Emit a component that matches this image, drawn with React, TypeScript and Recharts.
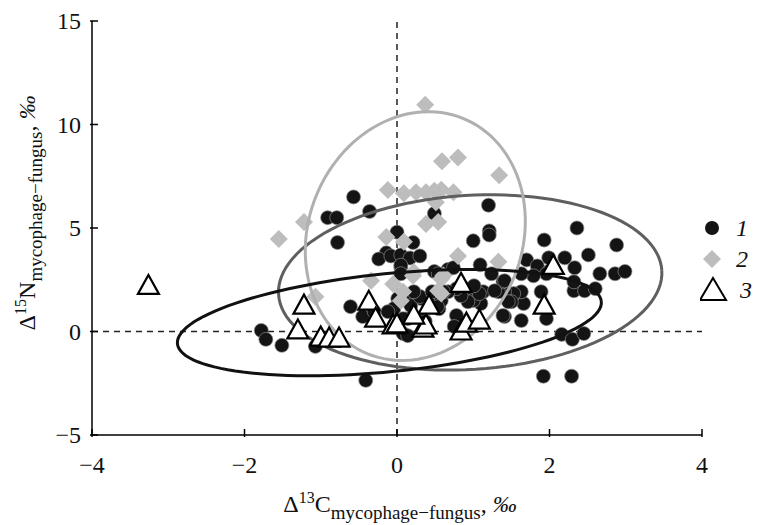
import React from "react";
import {
  ScatterChart, Scatter, XAxis, YAxis, ReferenceLine, Label,
} from "recharts";

// group 1 – black dots
const dotsX = [
  -1.78, -1.72, -1.51, -1.07, -0.61, -0.45, -0.3, -0.41, 0.08, 0.05,
  -0.57, -0.91, -0.79, -0.36, -0.78, 0.0, -0.14, -0.24, -0.08, 0.05, 0.17, 0.3, 0.21, 0.49, 0.05, 0.49, 0.67, 0.05,
  1.2, 1.21, 1.21, 1.0, 1.93, 2.36, 2.51, 2.2, 1.99, 1.7, 1.84, 0.74, 1.09, 2.33, 1.99,
  2.88, 2.66, 2.86, 2.99,
  2.32, 2.46, 2.6, 1.89, 1.96, 2.16, 2.3, 2.45, 1.92, 2.29, 1.63, 1.41, 1.66, 1.63, 1.53, 1.41, 1.33, 1.5, 1.13, 1.1,
  0.95, 1.0, 0.78, 0.75, 0.55, 0.49, 0.36, 0.14, 0.12, 0.32, 0.54, 1.24, 1.39, 1.96, 2.32, 1.79, 1.63, 1.41, 1.28,
  1.46, 1.08, 0.93, 0.84, 1.01, 0.78, 0.67, 0.58, 1.39,
  0.01, 0.18, 0.08, 0.14, 0.37, 0.3, 0.53, 0.46, 0.61, 0.22, -0.04, -0.04, -0.12,
];
const dotsY = [
  0.05, -0.38, -0.67, -0.72, 1.2, 0.72, 0.96, -2.36, -0.1, 3.1,
  6.5, 5.5, 5.5, 5.8, 4.3, 4.8, 3.8, 3.5, 3.65, 3.7, 3.55, 3.65, 4.3, 5.7, 3.2, 2.9, 3.0, 2.79,
  6.1, 4.86, 4.66, 4.38, 4.42, 5.0, 3.7, 3.56, 3.56, 3.46, 3.17, 3.08, 3.22, 3.08, 2.9,
  4.18, 2.79, 2.79, 2.9,
  1.97, 1.97, 2.07, 1.92, 0.62, -0.14, -0.38, -0.1, -2.16, -2.16, 0.53, 0.72, 1.35, 1.92, 1.83, 1.92, 1.92, 1.44, 1.92, 1.35,
  2.07, 1.5, 0.77, 0.24, 1.1, 1.44, 0.53, 0.62, 1.59, 1.59, 2.79, 2.79, 2.4, 2.79, 2.4, 2.69, 2.79, 2.45, 1.97,
  1.44, 1.83, 1.44, 1.73, 2.21, 2.07, 1.92, 1.49, 0.77,
  1.59, 1.25, 0.62, -0.2, 0.48, 1.69, 1.2, 1.92, 1.92, 1.92, 1.11, 0.29, 0.96,
];

// group 2 – grey diamonds
const diamondsX = [
  -1.55, -1.22, -0.12, 0.09, -0.14, 0.09, -1.07, -0.34, -0.05, 0.08, 0.37, 0.59, 0.8, 1.34,
  0.25, 0.38, 0.49, 0.58, 0.74, 0.51, 0.38, 0.54, 0.8, 1.33, 0.05, 0.54, 0.58, 0.21, 0.58, 0.61, 0.22,
];
const diamondsY = [
  4.47, 5.29, 6.83, 6.68, 4.57, 4.33, 1.68, 2.45, 2.3, 1.92, 10.96, 8.22, 8.41, 7.55,
  6.73, 6.73, 6.8, 6.85, 6.73, 6.25, 5.19, 5.29, 3.65, 3.37, 1.49, 1.97, 2.55, 2.69, 1.83, 2.7, 2.88,
];

// group 3 – open triangles
const trianglesX = [
  -3.26, -1.22, -1.3, -1.0, -0.89, -0.76, -0.37, -0.28, -0.05, 0.0, 0.34, 0.42, 0.38, 0.84, 0.91, 1.08, 1.93, 0.84, 0.22, 2.05,
];
const trianglesY = [
  2.2, 1.25, 0.05, -0.29, -0.34, -0.34, 1.44, 0.62, 0.29, 0.34, 0.14, 1.25, 0.29, 0.0, 0.38, 0.53, 1.25, 2.3, 0.77, 3.17,
];

// ellipses: centre x, centre y, semi-axes (px), rotation (deg)
const ellipseNames = ["1", "2", "3"];
const ellipseCx = [0.96, 0.24, -0.1];
const ellipseCy = [2.37, 4.61, 0.43];
const ellipseA = [192, 107, 213];
const ellipseB = [87, 127, 49];
const ellipseDeg = [3.6, -22, 5.7];
const ellipseColors = ["#5f5f5f", "#b0b0b0", "#111111"];

const xTicks = [-4, -2, 0, 2, 4];
const yTicks = [-5, 0, 5, 10, 15];

const W = 772;
const H = 525;
const M = { top: 21, right: 70, left: 2, bottom: 0 };
const Y_W = 90;
const X_H = 90;
const PX_X = (W - M.left - M.right - Y_W) / 8;
const PX_Y = (H - M.top - X_H) / 20;

const FONT = "'Liberation Serif', 'Times New Roman', serif";

const zip = (xs: number[], ys: number[]) => xs.map((x, i) => ({ x, y: ys[i] }));

function ellipsePoints(i: number) {
  const th = (ellipseDeg[i] * Math.PI) / 180;
  const pts = [];
  for (let k = 0; k <= 120; k++) {
    const t = (k / 120) * 2 * Math.PI;
    const px = ellipseA[i] * Math.cos(t);
    const py = ellipseB[i] * Math.sin(t);
    const rx = px * Math.cos(th) - py * Math.sin(th);
    const ry = px * Math.sin(th) + py * Math.cos(th);
    pts.push({ x: ellipseCx[i] + rx / PX_X, y: ellipseCy[i] + ry / PX_Y });
  }
  return pts;
}

const minus = (v: number) => String(v).replace("-", "\u2212");

const Dot = ({ cx, cy }: any) => (
  <circle cx={cx} cy={cy} r={7} fill="#141414" stroke="#8a8a8a" strokeWidth={0.7} />
);
const Diamond = ({ cx, cy }: any) => (
  <polygon
    points={`${cx},${cy - 9} ${cx + 9},${cy} ${cx},${cy + 9} ${cx - 9},${cy}`}
    fill="#bdbdbd"
  />
);
const Tri = ({ cx, cy }: any) => (
  <polygon
    points={`${cx},${cy - 11} ${cx + 10.5},${cy + 8} ${cx - 10.5},${cy + 8}`}
    fill="#fff"
    stroke="#000"
    strokeWidth={2.2}
    strokeLinejoin="miter"
  />
);
const Empty = () => <g />;

function YTick({ x, y, payload }: any) {
  return (
    <g>
      <line x1={x} x2={x + 8} y1={y} y2={y} stroke="#000" strokeWidth={1.5} />
      <text x={x - 9} y={y + 8} textAnchor="end" fontFamily={FONT} fontSize={24} fill="#111">
        {minus(payload.value)}
      </text>
    </g>
  );
}

function XTick({ x, y, payload }: any) {
  return (
    <g>
      <line x1={x} x2={x} y1={y} y2={y - 8} stroke="#000" strokeWidth={1.5} />
      <text x={x} y={y + 36} textAnchor="middle" fontFamily={FONT} fontSize={24} fill="#111">
        {minus(payload.value)}
      </text>
    </g>
  );
}

const XTitle = () => (
  <text x={400} y={512} textAnchor="middle" fontFamily={FONT} fontSize={24} fill="#111">
    Δ<tspan dy={-9} fontSize={16}>13</tspan>
    <tspan dy={9}>C</tspan>
    <tspan dy={7} fontSize={19}>mycophage−fungus</tspan>
    <tspan dy={-7}>, </tspan>
    <tspan fontStyle="italic">‰</tspan>
  </text>
);

const YTitle = () => (
  <text
    transform="translate(35,213) rotate(-90)"
    textAnchor="middle"
    fontFamily={FONT}
    fontSize={24}
    fill="#111"
  >
    Δ<tspan dy={-9} fontSize={16}>15</tspan>
    <tspan dy={9}>N</tspan>
    <tspan dy={7} fontSize={19}>mycophage−fungus</tspan>
    <tspan dy={-7}>, </tspan>
    <tspan fontStyle="italic">‰</tspan>
  </text>
);

const legendItems = [
  { label: "1", y: 228 },
  { label: "2", y: 259 },
  { label: "3", y: 290 },
];

export default function App() {
  return (
    <div style={{ position: "absolute", left: 0, top: 0, width: W, height: H, background: "#fff" }}>
      <ScatterChart width={W} height={H} margin={M}>
        <XAxis
          type="number"
          dataKey="x"
          domain={[-4, 4]}
          ticks={xTicks}
          height={X_H}
          allowDataOverflow
          tickLine={false}
          tickSize={0}
          axisLine={{ stroke: "#000", strokeWidth: 1.5 }}
          tick={<XTick />}
        >
          <Label content={<XTitle />} />
        </XAxis>
        <YAxis
          type="number"
          dataKey="y"
          domain={[-5, 15]}
          ticks={yTicks}
          width={Y_W}
          allowDataOverflow
          tickLine={false}
          tickSize={0}
          axisLine={{ stroke: "#000", strokeWidth: 1.5 }}
          tick={<YTick />}
        >
          <Label content={<YTitle />} />
        </YAxis>
        <ReferenceLine x={0} stroke="#222" strokeWidth={1.5} strokeDasharray="6 5" />
        <ReferenceLine y={0} stroke="#222" strokeWidth={1.5} strokeDasharray="6 5" />
        <Scatter data={zip(dotsX, dotsY)} shape={<Dot />} isAnimationActive={false} />
        <Scatter data={zip(diamondsX, diamondsY)} shape={<Diamond />} isAnimationActive={false} />
        {ellipseNames.map((n, i) => (
          <Scatter
            key={n}
            data={ellipsePoints(i)}
            line={{ stroke: ellipseColors[i], strokeWidth: 3 }}
            lineType="joint"
            shape={<Empty />}
            isAnimationActive={false}
          />
        ))}
        <Scatter data={zip(trianglesX, trianglesY)} shape={<Tri />} isAnimationActive={false} />
      </ScatterChart>
      <svg
        width={70}
        height={120}
        style={{ position: "absolute", left: 700, top: 210 }}
      >
        {legendItems.map((it, i) => {
          const cy = it.y - 210;
          return (
            <g key={it.label}>
              {i === 0 && <circle cx={12} cy={cy} r={7} fill="#141414" />}
              {i === 1 && (
                <polygon points={`12,${cy - 9} 21,${cy} 12,${cy + 9} 3,${cy}`} fill="#bdbdbd" />
              )}
              {i === 2 && (
                <polygon
                  points={`12,${cy - 12} 25,${cy + 10} -1,${cy + 10}`}
                  fill="#fff"
                  stroke="#000"
                  strokeWidth={2}
                  transform="translate(1,0)"
                />
              )}
              <text
                x={i === 2 ? 40 : 36}
                y={cy + 8}
                fontFamily={FONT}
                fontStyle="italic"
                fontSize={24}
                fill="#111"
              >
                {it.label}
              </text>
            </g>
          );
        })}
      </svg>
    </div>
  );
}
